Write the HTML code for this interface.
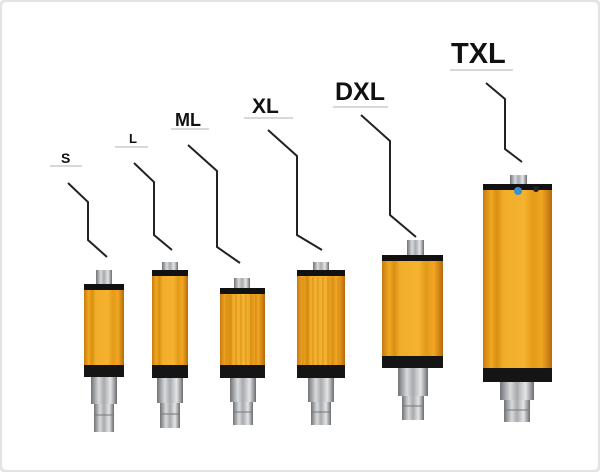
<!DOCTYPE html>
<html><head><meta charset="utf-8"><style>
html,body{margin:0;padding:0;background:#fff;}
svg{display:block;}
text{font-family:"Liberation Sans",sans-serif;font-weight:bold;fill:#111;}
</style></head><body>
<svg width="600" height="472" viewBox="0 0 600 472" xmlns="http://www.w3.org/2000/svg">
<defs>
<linearGradient id="gold" x1="0" x2="1" y1="0" y2="0">
<stop offset="0" stop-color="#c87a10"/><stop offset="0.12" stop-color="#f0a820"/><stop offset="0.2" stop-color="#d98e12"/>
<stop offset="0.3" stop-color="#f2ae2a"/><stop offset="0.6" stop-color="#f4b230"/><stop offset="0.72" stop-color="#e39a18"/>
<stop offset="0.85" stop-color="#f0a622"/><stop offset="1" stop-color="#b86a0c"/></linearGradient>
<linearGradient id="steel" x1="0" x2="1" y1="0" y2="0">
<stop offset="0" stop-color="#6f7377"/><stop offset="0.3" stop-color="#d8dadc"/><stop offset="0.5" stop-color="#a8abae"/>
<stop offset="0.75" stop-color="#e4e5e6"/><stop offset="1" stop-color="#6a6d70"/></linearGradient>
</defs>
<rect x="0.5" y="0.5" width="599" height="471" rx="6" fill="#fff" stroke="#e4e4e4" stroke-width="3"/>
<!-- labels -->
<g>
<text x="61" y="163" font-size="14">S</text><line x1="50" y1="166" x2="82" y2="166" stroke="#ccc" stroke-width="1.5"/>
<text x="129" y="143" font-size="13">L</text><line x1="115" y1="147" x2="148" y2="147" stroke="#ccc" stroke-width="1.5"/>
<text x="175" y="126" font-size="18">ML</text><line x1="171" y1="129" x2="209" y2="129" stroke="#ccc" stroke-width="1.5"/>
<text x="252" y="113" font-size="21">XL</text><line x1="244" y1="118" x2="293" y2="118" stroke="#ccc" stroke-width="1.5"/>
<text x="335" y="100" font-size="25">DXL</text><line x1="333" y1="107" x2="388" y2="107" stroke="#ccc" stroke-width="1.5"/>
<text x="451" y="63" font-size="29">TXL</text><line x1="450" y1="70" x2="513" y2="70" stroke="#ccc" stroke-width="1.5"/>
</g>
<g fill="none" stroke="#222" stroke-width="2">
<polyline points="68,183 88,202 88,240 107,257"/>
<polyline points="134,163 154,182 154,235 172,250"/>
<polyline points="188,145 217,171 217,247 240,263"/>
<polyline points="268,130 297,156 297,235 322,250"/>
<polyline points="361,115 390,141 390,215 416,237"/>
<polyline points="486,83 505,99 505,149 522,162"/>
</g>
<!-- units -->
<!-- S -->
<g>
<rect x="96" y="270" width="16" height="15" fill="url(#steel)"/>
<rect x="84" y="284" width="40" height="7" fill="#111"/>
<rect x="84" y="290" width="40" height="76" fill="url(#gold)"/>
<rect x="84" y="365" width="40" height="12" fill="#151515"/>
<rect x="91" y="377" width="26" height="27" fill="url(#steel)"/>
<rect x="94" y="404" width="20" height="28" fill="url(#steel)"/>
<line x1="94" y1="415" x2="114" y2="415" stroke="#777"/>
</g>
<!-- L -->
<g>
<rect x="162" y="262" width="16" height="10" fill="url(#steel)"/>
<rect x="152" y="270" width="36" height="7" fill="#111"/>
<rect x="152" y="276" width="36" height="90" fill="url(#gold)"/>
<rect x="152" y="365" width="36" height="13" fill="#151515"/>
<rect x="157" y="378" width="26" height="25" fill="url(#steel)"/>
<rect x="160" y="403" width="20" height="25" fill="url(#steel)"/>
<line x1="160" y1="414" x2="180" y2="414" stroke="#777"/>
</g>
<!-- ML -->
<g>
<rect x="234" y="278" width="16" height="11" fill="url(#steel)"/>
<rect x="220" y="288" width="45" height="7" fill="#111"/>
<rect x="220" y="294" width="45" height="72" fill="url(#gold)"/>
<g stroke="#c27a10" stroke-width="1" opacity="0.6">
<line x1="226" y1="295" x2="226" y2="365"/><line x1="231" y1="295" x2="231" y2="365"/><line x1="236" y1="295" x2="236" y2="365"/><line x1="241" y1="295" x2="241" y2="365"/><line x1="246" y1="295" x2="246" y2="365"/><line x1="251" y1="295" x2="251" y2="365"/><line x1="256" y1="295" x2="256" y2="365"/></g>
<rect x="220" y="365" width="45" height="13" fill="#151515"/>
<rect x="230" y="378" width="26" height="24" fill="url(#steel)"/>
<rect x="233" y="402" width="20" height="23" fill="url(#steel)"/>
<line x1="233" y1="412" x2="253" y2="412" stroke="#777"/>
</g>
<!-- XL -->
<g>
<rect x="313" y="262" width="16" height="10" fill="url(#steel)"/>
<rect x="297" y="270" width="48" height="7" fill="#111"/>
<rect x="297" y="276" width="48" height="90" fill="url(#gold)"/>
<g stroke="#c27a10" stroke-width="1" opacity="0.6">
<line x1="303" y1="277" x2="303" y2="365"/><line x1="308" y1="277" x2="308" y2="365"/><line x1="313" y1="277" x2="313" y2="365"/><line x1="318" y1="277" x2="318" y2="365"/><line x1="323" y1="277" x2="323" y2="365"/><line x1="328" y1="277" x2="328" y2="365"/><line x1="333" y1="277" x2="333" y2="365"/><line x1="338" y1="277" x2="338" y2="365"/></g>
<rect x="297" y="365" width="48" height="13" fill="#151515"/>
<rect x="308" y="378" width="26" height="24" fill="url(#steel)"/>
<rect x="311" y="402" width="20" height="23" fill="url(#steel)"/>
<line x1="311" y1="412" x2="331" y2="412" stroke="#777"/>
</g>
<!-- DXL -->
<g>
<rect x="407" y="240" width="17" height="16" fill="url(#steel)"/>
<rect x="382" y="255" width="61" height="7" fill="#111"/>
<rect x="382" y="261" width="61" height="96" fill="url(#gold)"/>
<rect x="382" y="356" width="61" height="12" fill="#151515"/>
<rect x="398" y="368" width="30" height="28" fill="url(#steel)"/>
<rect x="402" y="396" width="22" height="24" fill="url(#steel)"/>
<line x1="402" y1="406" x2="424" y2="406" stroke="#777"/>
</g>
<!-- TXL -->
<g>
<rect x="510" y="175" width="17" height="11" fill="url(#steel)"/>
<rect x="483" y="184" width="69" height="7" fill="#111"/>
<rect x="483" y="190" width="69" height="179" fill="url(#gold)"/>
<circle cx="518" cy="191" r="4" fill="#3a8fd0"/>
<circle cx="536" cy="189" r="3" fill="#222"/>
<rect x="483" y="368" width="69" height="14" fill="#151515"/>
<rect x="500" y="382" width="34" height="18" fill="url(#steel)"/>
<rect x="504" y="400" width="26" height="22" fill="url(#steel)"/>
<line x1="504" y1="410" x2="530" y2="410" stroke="#777"/>
</g>
</svg>
</body></html>
